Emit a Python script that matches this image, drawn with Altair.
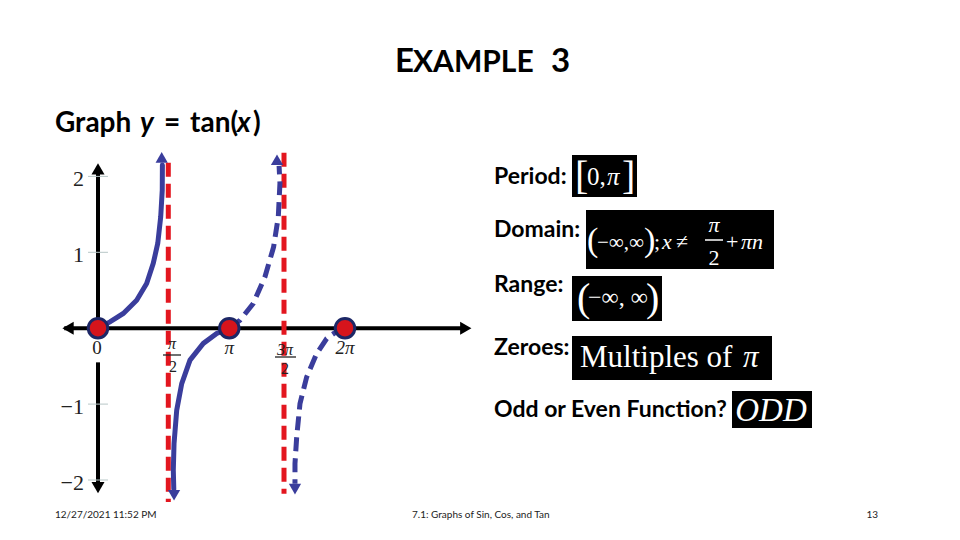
import altair as alt
import pandas as pd

# ---------------- data (x in units of pi, y in tan units) ----------------
b1_t = [0, 0.085, 0.18, 0.275, 0.346, 0.393, 0.425, 0.446, 0.457, 0.458]
b1_y = [0, 0.083, 0.194, 0.369, 0.59, 0.854, 1.117, 1.468, 1.82, 2.15]

b2s_t = [1.0, 0.897, 0.787, 0.678, 0.61, 0.569, 0.547, 0.541, 0.545]
b2s_y = [0, -0.07, -0.2, -0.42, -0.73, -1.08, -1.52, -1.87, -2.12]

b2d_t = [1.0, 1.098, 1.219, 1.326, 1.405, 1.448, 1.463, 1.455]
b2d_y = [0, 0.106, 0.326, 0.677, 1.07, 1.47, 1.91, 2.14]

b3_t = [2.0, 1.934, 1.85, 1.768, 1.686, 1.631, 1.604, 1.59, 1.59]
b3_y = [0, -0.04, -0.136, -0.334, -0.642, -0.993, -1.434, -1.785, -2.05]

arrow_t = [0.453, 0.547, 1.436, 1.59]
arrow_y = [2.25, -2.2, 2.22, -2.12]
arrow_shape = ["triangle-up", "triangle-down", "triangle-up", "triangle-down"]

zero_t = [0, 1, 2]
zero_y = [0, 0, 0]

asym_t = [0.5, 1.5]
asym_top = [2.18, 2.31]
asym_bot = [-2.29, -2.18]

ytick_vals = [2, 1, -1, -2]
ytick_labels = ["2", "1", "\u22121", "\u22122"]

xlab_t = [1, 2]
xlab_text = ["\u03c0", "2\u03c0"]

# ---------------- scales ----------------
XS = alt.Scale(domain=[0, 0.5, 1, 1.5, 2], range=[90, 160.3, 221.3, 276, 337], zero=False, nice=False)
YS = alt.Scale(domain=[-2, 2], range=[472, 168.4], zero=False, nice=False)

def X(f="t"):
    return alt.X(f + ":Q", scale=XS, axis=None)

def Y(f="y"):
    return alt.Y(f + ":Q", scale=YS, axis=None)

BLUE = "#3a3d9c"
RED = "#e3161f"
SERIF = "Liberation Serif"
SANS = "Lato"

def seg(ts, ys):
    return pd.DataFrame({"t": ts, "y": ys, "i": list(range(len(ts)))})

layers = []

# axes (black)
axes_h = pd.DataFrame({"t": [-0.24], "t2": [3.0], "y": [0]})
layers.append(alt.Chart(axes_h).mark_rule(color="black", strokeWidth=4).encode(
    x=X(), x2="t2:Q", y=Y()))
axes_v = pd.DataFrame({"t": [0, 0], "y": [2.12, -0.45], "y2": [0, -2.12]})
layers.append(alt.Chart(axes_v).mark_rule(color="black", strokeWidth=4).encode(
    x=X(), y=Y(), y2="y2:Q"))
ax_arrows = pd.DataFrame({"t": [-0.213, 2.99, 0, 0], "y": [0, 0, 2.10, -2.10],
                          "s": ["triangle-left", "triangle-right", "triangle-up", "triangle-down"]})
layers.append(alt.Chart(ax_arrows).mark_point(filled=True, color="black", opacity=1, size=170).encode(
    x=X(), y=Y(), shape=alt.Shape("s:N", scale=None)))

# light tick marks on y axis
ticks = pd.DataFrame({"t": [-0.071] * 4, "t2": [0.071] * 4, "y": ytick_vals})
layers.append(alt.Chart(ticks).mark_rule(color="#b7c6c6", strokeWidth=1).encode(
    x=X(), x2="t2:Q", y=Y()))

# asymptotes
asym = pd.DataFrame({"t": asym_t, "y": asym_top, "y2": asym_bot})
layers.append(alt.Chart(asym).mark_rule(color=RED, strokeWidth=5, strokeDash=[14, 7]).encode(
    x=X(), y=Y(), y2="y2:Q"))

# curves
layers.append(alt.Chart(seg(b1_t, b1_y)).mark_line(color=BLUE, strokeWidth=5, strokeCap="round").encode(
    x=X(), y=Y(), order="i:Q"))
layers.append(alt.Chart(seg(b2s_t, b2s_y)).mark_line(color=BLUE, strokeWidth=5, strokeCap="round").encode(
    x=X(), y=Y(), order="i:Q"))
layers.append(alt.Chart(seg(b2d_t, b2d_y)).mark_line(color=BLUE, strokeWidth=5, strokeDash=[14, 7]).encode(
    x=X(), y=Y(), order="i:Q"))
layers.append(alt.Chart(seg(b3_t, b3_y)).mark_line(color=BLUE, strokeWidth=5, strokeDash=[14, 7]).encode(
    x=X(), y=Y(), order="i:Q"))
arr = pd.DataFrame({"t": arrow_t, "y": arrow_y, "s": arrow_shape})
layers.append(alt.Chart(arr).mark_point(filled=True, color=BLUE, opacity=1, size=150).encode(
    x=X(), y=Y(), shape=alt.Shape("s:N", scale=None)))

# zero dots
zeros = pd.DataFrame({"t": zero_t, "y": zero_y})
layers.append(alt.Chart(zeros).mark_point(shape="circle", filled=True, fill="#d6141c", stroke="#1d2766",
                                          strokeWidth=3, opacity=1, size=380).encode(x=X(), y=Y()))

# y tick labels
ylab = pd.DataFrame({"y": ytick_vals, "lab": ytick_labels})
layers.append(alt.Chart(ylab).mark_text(font=SERIF, fontSize=22, align="right", baseline="middle",
                                        color="#222", dy=3).encode(
    x=alt.value(76), y=Y(), text="lab:N"))

# x labels
xlab = pd.DataFrame({"t": xlab_t, "lab": xlab_text})
layers.append(alt.Chart(xlab).mark_text(font=SERIF, fontSize=19, fontStyle="italic", align="center",
                                        baseline="middle", color="#222").encode(
    x=X(), y=alt.value(340), text="lab:N"))

def txt(s, x, y, size, font=SANS, weight="normal", style="normal", color="black",
        align="left", baseline="alphabetic"):
    return alt.Chart(pd.DataFrame({"s": [s]})).mark_text(
        font=font, fontSize=size, fontWeight=weight, fontStyle=style, color=color,
        align=align, baseline=baseline, x=x - 8, y=y - 8).encode(text="s:N")

def box(x1, y1, x2, y2, color="black"):
    return alt.Chart(pd.DataFrame({"a": [0]})).mark_rect(color=color).encode(
        x=alt.value(x1 - 8), x2=alt.value(x2 - 8), y=alt.value(y1 - 8), y2=alt.value(y2 - 8))

def hbar(x1, x2, y, color="#222", w=1.3):
    return alt.Chart(pd.DataFrame({"a": [0]})).mark_rule(color=color, strokeWidth=w).encode(
        x=alt.value(x1 - 8), x2=alt.value(x2 - 8), y=alt.value(y - 8))

# zero label and fraction labels pi/2 and 3pi/2
layers += [
    txt("0", 97, 348, 19, font=SERIF, color="#222", align="center", baseline="middle"),
    txt("\u03c0", 172, 344, 16, font=SERIF, style="italic", color="#222", align="center", baseline="middle"),
    hbar(163, 181, 355),
    txt("2", 173, 367, 16, font=SERIF, color="#222", align="center", baseline="middle"),
    txt("3\u03c0", 285, 350, 16, font=SERIF, style="italic", color="#222", align="center", baseline="middle"),
    hbar(275, 296, 357),
    txt("2", 285, 369, 16, font=SERIF, color="#222", align="center", baseline="middle"),
]

# slide title
layers += [
    txt("E", 395, 72, 33, weight="bold"),
    txt("XAMPLE", 413, 72, 30, weight="bold"),
    txt("3", 551, 72, 33, weight="bold"),
    txt("Graph", 55, 132, 28, weight="bold"),
    txt("y", 140, 132, 28, weight="bold", style="italic"),
    txt("=", 164, 132, 28, weight="bold"),
    txt("tan(", 190, 132, 28, weight="bold"),
    txt("x", 237, 132, 28, weight="bold", style="italic"),
    txt(")", 253, 132, 28, weight="bold"),
]

# right side labels
layers += [
    txt("Period:", 494, 184, 23, weight="bold"),
    txt("Domain:", 494, 237, 23, weight="bold"),
    txt("Range:", 494, 292, 23, weight="bold"),
    txt("Zeroes:", 494, 355, 23, weight="bold"),
    txt("Odd or Even Function?", 494, 417, 23, weight="bold"),
]

W = "white"
# black answer boxes
layers += [
    box(572, 155, 637, 197),
    txt("[", 575, 189, 40, font=SERIF, color=W),
    txt("0,", 587, 185, 25, font=SERIF, color=W),
    txt("\u03c0", 607, 185, 25, font=SERIF, style="italic", color=W),
    txt("]", 622, 189, 40, font=SERIF, color=W),

    box(586, 210, 774, 269),
    txt("(", 587, 251, 34, font=SERIF, color=W),
    txt("\u2212\u221e,\u221e", 597, 249, 21, font=SERIF, color=W),
    txt(")", 644, 251, 34, font=SERIF, color=W),
    txt(";", 654, 249, 22, font=SERIF, color=W),
    txt("x", 662, 249, 22, font=SERIF, style="italic", color=W),
    txt("\u2260", 676, 249, 22, font=SERIF, color=W),
    txt("\u03c0", 714, 225, 22, font=SERIF, style="italic", color=W, align="center", baseline="middle"),
    hbar(705, 723, 240, color=W, w=1.5),
    txt("2", 714, 258, 22, font=SERIF, color=W, align="center", baseline="middle"),
    txt("+", 726, 249, 22, font=SERIF, color=W),
    txt("\u03c0n", 741, 249, 22, font=SERIF, style="italic", color=W),

    box(572, 276, 662, 321),
    txt("(", 577, 311, 40, font=SERIF, color=W),
    txt("\u2212\u221e, \u221e", 588, 305, 24, font=SERIF, color=W),
    txt(")", 646, 311, 40, font=SERIF, color=W),

    box(572, 336, 772, 380),
    txt("Multiples of", 580, 367, 31, font=SERIF, color=W),
    txt("\u03c0", 743, 367, 31, font=SERIF, style="italic", color=W),

    box(732, 391, 812, 428),
    txt("ODD", 771, 421, 33, font=SERIF, style="italic", color=W, align="center"),
]

# footer
layers += [
    txt("12/27/2021 11:52 PM", 55, 515, 10, baseline="middle", color="#222"),
    txt("7.1: Graphs of Sin, Cos, and Tan", 412, 515, 10, baseline="middle", color="#222"),
    txt("13", 878, 515, 10, baseline="middle", color="#222", align="right"),
]

chart = alt.layer(*layers).properties(
    width=944, height=524, autosize="none", padding=0, background="white"
).configure_view(stroke=None)

chart.save("out.html", embed_options={"renderer": "svg", "actions": False})
